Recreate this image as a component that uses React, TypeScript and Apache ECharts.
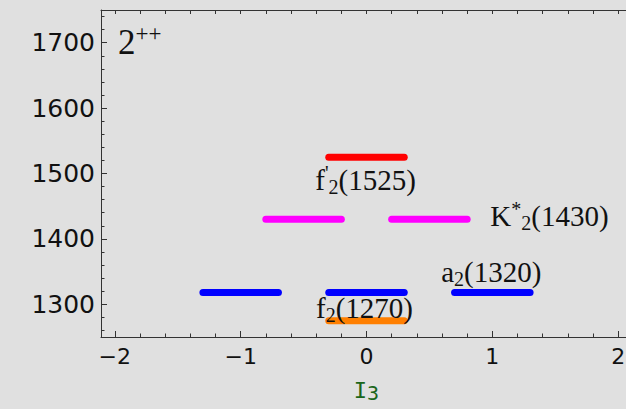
import React, { useEffect, useRef } from "react";
import * as echarts from "echarts";

// ---- data ----
const particleLabels = [
  "{m|f}{p|'}{s|2}{m|(1525)}",
  "{m|K}{p|*}{s|2}{m|(1430)}",
  "{m|a}{s|2}{m|(1320)}",
  "{m|f}{s|2}{m|(1270)}",
];
const particleMasses = [1525, 1430, 1318, 1275];
const particleI3 = [[0], [-0.5, 0.5], [-1, 0, 1], [0]];
const segmentHalfWidth = 0.3;
const particleColors = ["#ff0000", "#ff00ff", "#0000ff", "#ff7f00"];
const xTickValues = [-2, -1, 0, 1, 2];
const xMinorTickValues = [
  -2, -1.8, -1.6, -1.4, -1.2, -1, -0.8, -0.6, -0.4, -0.2, 0, 0.2, 0.4, 0.6, 0.8, 1,
  1.2, 1.4, 1.6, 1.8, 2,
];
const yTickValues = [1300, 1400, 1500, 1600, 1700];
const yMinorTickValues = [
  1260, 1280, 1300, 1320, 1340, 1360, 1380, 1400, 1420, 1440, 1460, 1480, 1500, 1520,
  1540, 1560, 1580, 1600, 1620, 1640, 1660, 1680, 1700, 1720, 1740,
];
const panelTitle = "{m|2}{s|++}";
const xAxisName = "{i|I}{s|3}";

// label pixel offsets relative to the right-most segment centre
const labelOffsets = [
  [-1, 23],
  [120, -3],
  [-1, -21],
  [-2, -13],
];

const AXIS_COLOR = "#333";
const TEXT_COLOR = "#111";

export default function App() {
  const ref = useRef<HTMLDivElement>(null);
  useEffect(() => {
    document.body.style.margin = "0";
    document.body.style.background = "#e0e0e0";
    const chart = echarts.init(ref.current!, null, { renderer: "svg" });

    const series: any[] = [];
    particleMasses.forEach((m, i) => {
      particleI3[i].forEach((c) => {
        series.push({
          type: "line",
          xAxisIndex: 0,
          yAxisIndex: 0,
          data: [
            [c - segmentHalfWidth, m],
            [c + segmentHalfWidth, m],
          ],
          showSymbol: false,
          symbol: "none",
          silent: true,
          z: 2,
          lineStyle: { color: particleColors[i], width: 7, cap: "round", opacity: 1 },
        });
      });
    });

    const serif = "Liberation Serif";
    const richLabel = {
      m: {
        fontFamily: serif,
        fontSize: 29,
        lineHeight: 34,
        color: TEXT_COLOR,
        textBorderWidth: 0,
      },
      s: {
        fontFamily: serif,
        fontSize: 20,
        lineHeight: 20,
        verticalAlign: "bottom",
        color: TEXT_COLOR,
        textBorderWidth: 0,
      },
      p: {
        fontFamily: serif,
        fontSize: 20,
        lineHeight: 26,
        verticalAlign: "top",
        color: TEXT_COLOR,
        textBorderWidth: 0,
      },
    };

    series.push({
      type: "scatter",
      xAxisIndex: 0,
      yAxisIndex: 0,
      symbolSize: 0,
      silent: true,
      z: 3,
      itemStyle: { opacity: 1 },
      data: particleMasses.map((m, i) => {
        const xs = particleI3[i];
        return {
          value: [xs[xs.length - 1], m],
          itemStyle: { opacity: 1 },
          label: {
            show: true,
            position: "inside",
            offset: labelOffsets[i],
            formatter: particleLabels[i],
            color: TEXT_COLOR,
            opacity: 1,
            textBorderWidth: 0,
            textBorderColor: "transparent",
            rich: richLabel,
          },
        };
      }),
    });

    const xMin = -2.11;
    const xMax = 2.11;

    chart.setOption({
      animation: false,
      backgroundColor: "#e0e0e0",
      title: {
        text: panelTitle,
        left: 118,
        top: 22,
        padding: 0,
        textStyle: {
          fontWeight: "normal",
          rich: {
            m: {
              fontFamily: serif,
              fontSize: 35,
              lineHeight: 40,
              fontWeight: "normal",
              color: TEXT_COLOR,
            },
            s: {
              fontFamily: serif,
              fontSize: 23,
              lineHeight: 24,
              verticalAlign: "top",
              fontWeight: "normal",
              color: TEXT_COLOR,
            },
          },
        },
      },
      grid: {
        left: 101,
        top: 10,
        width: 531,
        height: 327,
        outerBoundsMode: "none",
        containLabel: false,
      },
      xAxis: [
        {
          type: "value",
          position: "bottom",
          min: xMin,
          max: xMax,
          axisLine: { show: true, onZero: false, lineStyle: { color: AXIS_COLOR, width: 1 } },
          axisTick: {
            show: true,
            inside: true,
            length: 6,
            customValues: xTickValues,
            lineStyle: { color: AXIS_COLOR },
          },
          axisLabel: {
            show: true,
            customValues: xTickValues,
            formatter: (v: number) => String(v).replace("-", "\u2212"),
            margin: 8,
            fontFamily: "DejaVu Sans",
            fontSize: 22,
            color: TEXT_COLOR,
          },
          splitLine: { show: false },
          name: xAxisName,
          nameLocation: "middle",
          nameGap: 40,
          nameTextStyle: {
            rich: {
              i: {
                fontFamily: "DejaVu Sans Mono",
                fontSize: 22,
                lineHeight: 26,
                color: "#1a661a",
              },
              s: {
                fontFamily: "DejaVu Sans Mono",
                fontSize: 20,
                lineHeight: 12,
                verticalAlign: "bottom",
                color: "#1a661a",
              },
            },
          },
        },
        {
          type: "value",
          position: "bottom",
          min: xMin,
          max: xMax,
          axisLine: { show: false, onZero: false },
          axisTick: {
            show: true,
            inside: true,
            length: 3.5,
            customValues: xMinorTickValues,
            lineStyle: { color: AXIS_COLOR },
          },
          axisLabel: { show: false },
          splitLine: { show: false },
        },
        {
          type: "value",
          position: "top",
          min: xMin,
          max: xMax,
          axisLine: { show: true, onZero: false, lineStyle: { color: AXIS_COLOR, width: 1 } },
          axisTick: {
            show: true,
            inside: true,
            length: 4,
            customValues: xMinorTickValues,
            lineStyle: { color: AXIS_COLOR },
          },
          axisLabel: { show: false },
          splitLine: { show: false },
        },
      ],
      yAxis: [
        {
          type: "value",
          position: "left",
          min: 1250,
          max: 1750,
          axisLine: { show: true, onZero: false, lineStyle: { color: AXIS_COLOR, width: 1 } },
          axisTick: {
            show: true,
            inside: true,
            length: 6,
            customValues: yTickValues,
            lineStyle: { color: AXIS_COLOR },
          },
          axisLabel: {
            show: true,
            customValues: yTickValues,
            formatter: (v: number) => String(v),
            margin: 6,
            fontFamily: "DejaVu Sans",
            fontSize: 25,
            color: TEXT_COLOR,
          },
          splitLine: { show: false },
        },
        {
          type: "value",
          position: "left",
          min: 1250,
          max: 1750,
          axisLine: { show: false, onZero: false },
          axisTick: {
            show: true,
            inside: true,
            length: 3.5,
            customValues: yMinorTickValues,
            lineStyle: { color: AXIS_COLOR },
          },
          axisLabel: { show: false },
          splitLine: { show: false },
        },
      ],
      series,
    });
    return () => chart.dispose();
  }, []);
  return <div ref={ref} style={{ width: 626, height: 409, background: "#e0e0e0" }} />;
}
